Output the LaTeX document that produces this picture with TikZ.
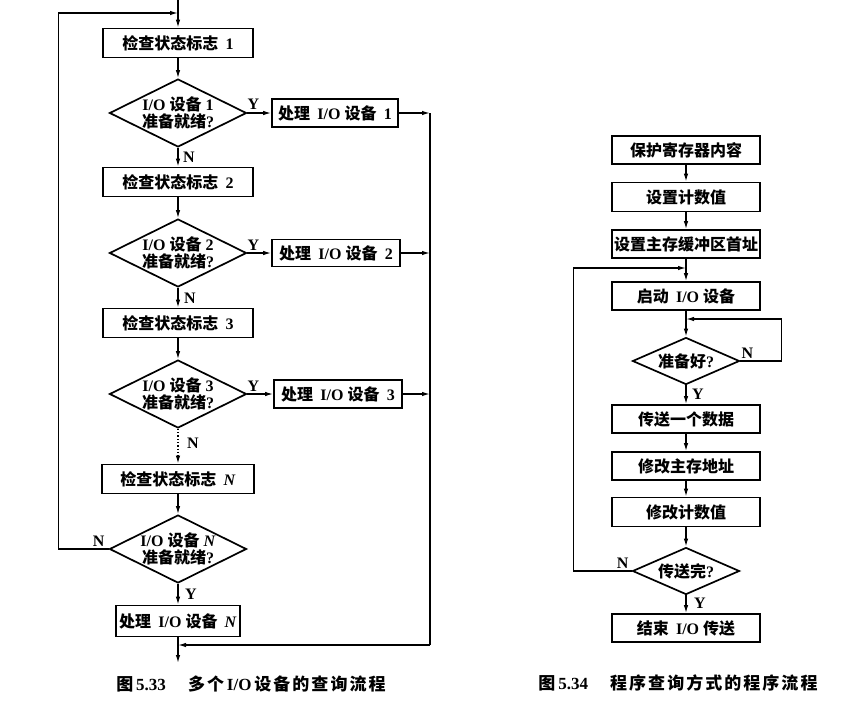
\documentclass[tikz,border=0pt]{standalone}
\usepackage{fontspec}
\setmainfont{Liberation Serif}
\newfontfamily\cjk{Noto Sans CJK SC}
\newfontfamily\cjkwide{Noto Sans CJK SC}[LetterSpace=12]
\usetikzlibrary{shapes.geometric,arrows.meta,decorations.markings,calc}
\newcommand\zh[1]{{\cjk\bfseries #1}}
\newcommand\zhw[1]{{\cjkwide\bfseries #1}}
\newcommand\gap{\hspace{0.45em}}

\begin{document}
\begin{tikzpicture}[x=1pt,y=-1pt,
  base/.style={font=\fontsize{16}{19}\selectfont\bfseries, text=black},
  procbox/.style={base, draw, line width=1.7pt, rectangle, minimum height=29pt, minimum width=150pt, inner sep=0pt},
  testbox/.style={base, draw, line width=1.7pt, diamond, shape aspect=2, inner sep=-4pt, align=center},
  bigtest/.style={testbox, minimum width=137pt, minimum height=68pt},
  smalltest/.style={testbox, minimum width=107pt, minimum height=47pt},
  tip/.style={-{Latex[length=8pt,width=4.5pt]}},
  flow/.style={line width=1.3pt, tip},
  wire/.style={line width=1.3pt},
  lab/.style={font=\fontsize{16}{17}\selectfont\bfseries, inner sep=1pt},
  caption/.style={font=\fontsize{17}{20}\selectfont\bfseries},
]
\useasboundingbox (0,0) rectangle (846,721);
\fill[white] (0,0) rectangle (846,721);

% ---------------- polling several I/O devices ----------------
\coordinate (entry) at (178,0);
\coordinate (loopin) at (178,13);
\node[procbox] (c1) at (178,43) {\zh{检查状态标志}\gap 1};
\node[bigtest] (d1) at (178,113) {I/O \zh{设备} 1\\[-2pt]\zh{准备就绪}?};
\node[procbox, minimum width=126pt, minimum height=28pt] (p1) at (335,113) {\zh{处理}\gap I/O \zh{设备}\gap 1};

\node[procbox] (c2) at (178,182) {\zh{检查状态标志}\gap 2};
\node[bigtest] (d2) at (178,253) {I/O \zh{设备} 2\\[-2pt]\zh{准备就绪}?};
\node[procbox, minimum width=128pt, minimum height=27pt] (p2) at (336,253) {\zh{处理}\gap I/O \zh{设备}\gap 2};

\node[procbox] (c3) at (178,323) {\zh{检查状态标志}\gap 3};
\node[bigtest] (d3) at (178,394) {I/O \zh{设备} 3\\[-2pt]\zh{准备就绪}?};
\node[procbox, minimum width=128pt, minimum height=28pt] (p3) at (338,394) {\zh{处理}\gap I/O \zh{设备}\gap 3};

\coordinate (dotend) at (178,455);
\node[procbox, minimum width=152pt] (cN) at (178,479) {\zh{检查状态标志}\gap\textit{N}};
\node[bigtest] (dN) at (178,549) {I/O \zh{设备} \textit{N}\\[-2pt]\zh{准备就绪}?};
\node[procbox, minimum width=124pt, minimum height=31pt] (pN) at (178,621) {\zh{处理}\gap I/O \zh{设备}\gap\textit{N}};
\coordinate (exit) at (178,663);

\coordinate (rtop) at (430,113);
\coordinate (r2) at (430,253);
\coordinate (r3) at (430,394);
\coordinate (rbot) at (430,645);
\coordinate (back) at (178,645);

% main chain
\draw[flow] (entry) -- (c1);
\draw[flow] (c1) -- (d1);
\draw[flow] (d1) -- (c2);
\draw[flow] (c2) -- (d2);
\draw[flow] (d2) -- (c3);
\draw[flow] (c3) -- (d3);
\draw[wire, dotted, line width=1.4pt] (d3.south) -- (dotend);
\draw[flow] (dotend) -- (cN);
\draw[flow] (cN) -- (dN);
\draw[flow] (dN) -- (pN);
\draw[flow] (pN) -- (exit);

% "ready" branches
\draw[flow] (d1) -- (p1);
\draw[flow] (d2) -- (p2);
\draw[flow] (d3) -- (p3);
\draw[flow] (p1) -- (rtop);
\draw[flow] (p2) -- (r2);
\draw[flow] (p3) -- (r3);
\draw[wire] (rtop) -- (rbot);
\draw[flow] (rbot) -- (back);

% loop back when device N is not ready
\draw[flow] (dN.west) -- ++(-50,0) |- (loopin);

% branch labels
\node[lab, anchor=south west] (y1) at ($(d1.east)+(-1,-2)$) {Y};
\node[lab, anchor=north west] (n1) at ($(d1.south)+(4,3)$) {N};
\node[lab, anchor=south west] (y2) at ($(d2.east)+(-1,-1)$) {Y};
\node[lab, anchor=north west] (n2) at ($(d2.south)+(5,4)$) {N};
\node[lab, anchor=south west] (y3) at ($(d3.east)+(-1,-1)$) {Y};
\node[lab, anchor=north west] (n3) at ($(d3.south)+(8,8)$) {N};
\node[lab, anchor=south east] (nN) at ($(dN.west)+(-3,-1)$) {N};
\node[lab, anchor=north west] (yN) at ($(dN.south)+(6,4)$) {Y};

\node[caption] (cap1) at (251,684) {\zh{图}\,5.33\hspace{1.3em}\zhw{多个}\,I/O\,\zhw{设备的查询流程}};

% ---------------- programmed I/O transfer ----------------
\node[procbox, minimum width=148pt, minimum height=28pt] (s1) at (686,150) {\zh{保护寄存器内容}};
\node[procbox, minimum width=148pt, minimum height=29pt] (s2) at (686,197) {\zh{设置计数值}};
\node[procbox, minimum width=148pt, minimum height=28pt] (s3) at (686,244) {\zh{设置主存缓冲区首址}};
\coordinate (again) at (686,268);
\node[procbox, minimum width=148pt, minimum height=28pt] (s4) at (686,296) {\zh{启动}\gap I/O \zh{设备}};
\coordinate (wait) at (686,319);
\node[smalltest] (q1) at (686,361) {\zh{准备好}?};
\node[procbox, minimum width=148pt, minimum height=28pt] (s5) at (686,419) {\zh{传送一个数据}};
\node[procbox, minimum width=148pt, minimum height=28pt] (s6) at (686,466) {\zh{修改主存地址}};
\node[procbox, minimum width=148pt, minimum height=29pt] (s7) at (686,512) {\zh{修改计数值}};
\node[smalltest] (q2) at (686,571) {\zh{传送完}?};
\node[procbox, minimum width=148pt, minimum height=28pt] (s8) at (686,628) {\zh{结束}\gap I/O \zh{传送}};

\draw[flow] (s1) -- (s2);
\draw[flow] (s2) -- (s3);
\draw[flow] (s3) -- (s4);
\draw[flow] (s4) -- (q1);
\draw[flow] (q1) -- (s5);
\draw[flow] (s5) -- (s6);
\draw[flow] (s6) -- (s7);
\draw[flow] (s7) -- (q2);
\draw[flow] (q2) -- (s8);

% wait until the device is ready
\draw[flow] (q1.east) -- ++(41,0) |- (wait);
% next word until the count is exhausted
\draw[flow] (q2.west) -- ++(-58,0) |- (again);

\node[lab, anchor=south west] (nq1) at ($(q1.east)+(0,-1)$) {N};
\node[lab, anchor=north west] (yq1) at ($(q1.south)+(5,2)$) {Y};
\node[lab, anchor=south east] (nq2) at ($(q2.west)+(-2,-1)$) {N};
\node[lab, anchor=north west] (yq2) at ($(q2.south)+(7,1)$) {Y};

\node[caption] (cap2) at (678,683) {\zh{图}\,5.34\hspace{1.3em}\zhw{程序查询方式的程序流程}};
\end{tikzpicture}
\end{document}
